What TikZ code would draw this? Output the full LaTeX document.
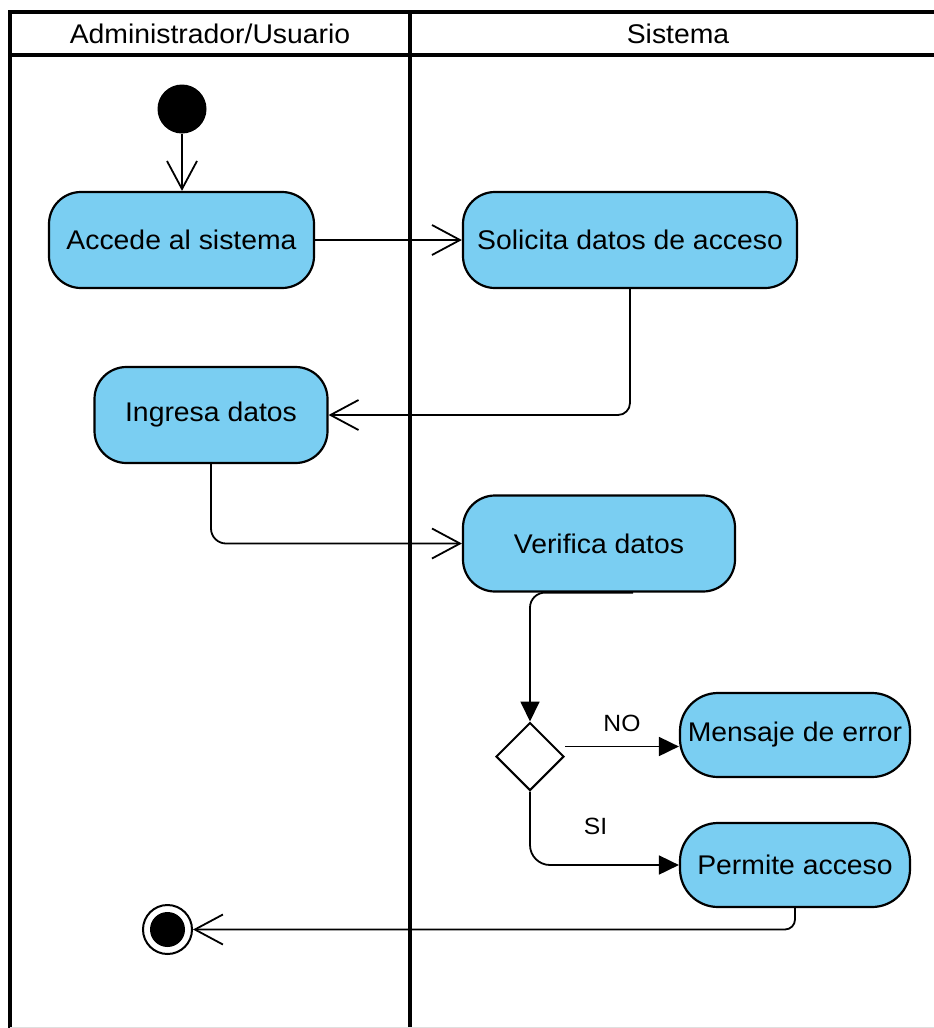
\documentclass[tikz,border=0pt]{standalone}
\usepackage{fontspec}
\setmainfont{Liberation Sans}[FakeStretch=1.05]
\usetikzlibrary{arrows.meta,shapes.geometric}
\definecolor{actblue}{RGB}{122,206,242}
\tikzset{
  lane/.style={line width=3.8pt},
  activity/.style={draw,line width=2.2pt,fill=actblue,rounded corners=32pt,minimum height=96pt,inner sep=2pt,font=\fontsize{27}{32}\selectfont},
  small act/.style={activity,rounded corners=38pt,minimum height=84pt},
  decision/.style={diamond,aspect=1,draw,line width=2pt,minimum size=68pt,inner sep=0pt},
  initial/.style={circle,fill,minimum size=49pt,inner sep=0pt},
  final/.style={circle,draw,line width=2pt,minimum size=49pt,inner sep=0pt,
    path picture={\fill (path picture bounding box.center) circle (17.5pt);}},
  flow/.style={line width=1.8pt,-{Straight Barb[length=28pt,width=30pt,line width=1.8pt]}},
  flowfill/.style={line width=1.8pt,-{Triangle[length=20pt,width=19pt]}},
  head/.style={font=\fontsize{27}{32}\selectfont},
  lbl/.style={font=\fontsize{23.5}{28}\selectfont}
}
\begin{document}
\begin{tikzpicture}[x=1pt,y=-1pt]
\useasboundingbox (0,0) rectangle (934,1028);
\draw[lane] (10,1028) -- (10,12) -- (934,12);
\draw[lane] (10,55) -- (934,55);
\draw[lane] (410,12) -- (410,1028);
\draw[gray!25,line width=1pt] (10,1027.5) -- (934,1027.5);
\node[head] (adm) at (210,34) {Administrador/Usuario};
\node[head] (sis) at (678,34) {Sistema};

\node[initial] (start) at (182,109) {};
\node[activity,minimum width=265pt] (accede) at (181.5,240) {Accede al sistema};
\node[activity,minimum width=334pt] (solicita) at (630,240) {Solicita datos de acceso};
\node[activity,minimum width=233pt] (ingresa) at (211,415) {Ingresa datos};
\node[activity,minimum width=272pt] (verifica) at (599,543.5) {Verifica datos};
\node[decision] (dec) at (530,756.5) {};
\node[small act,minimum width=230pt] (mensaje) at (795,735) {Mensaje de error};
\node[small act,minimum width=230pt] (permite) at (795,865) {Permite acceso};
\node[final] (fin) at (167.5,929.5) {};

\draw[flow] (start) -- (start |- accede.north);
\draw[flow] (accede) -- (solicita);
\draw[flow,rounded corners=12pt] (solicita.south) |- (ingresa.east);
\draw[flow,rounded corners=15pt] (ingresa.south) |- (verifica.west);
\draw[flowfill,rounded corners=15pt] ([xshift=34pt]verifica.south) -| (dec.north);
\draw[flowfill] ([yshift=10pt]dec.east) -- ([yshift=10pt]dec.east -| mensaje.west)
  node[midway,above=11pt,lbl] {NO};
\draw[flowfill,rounded corners=20pt] (dec.south) |- (permite.west)
  node[pos=.72,above=26pt,lbl] {SI};
\draw[flow,rounded corners=10pt] (permite.south) |- (fin.east);
\end{tikzpicture}
\end{document}
